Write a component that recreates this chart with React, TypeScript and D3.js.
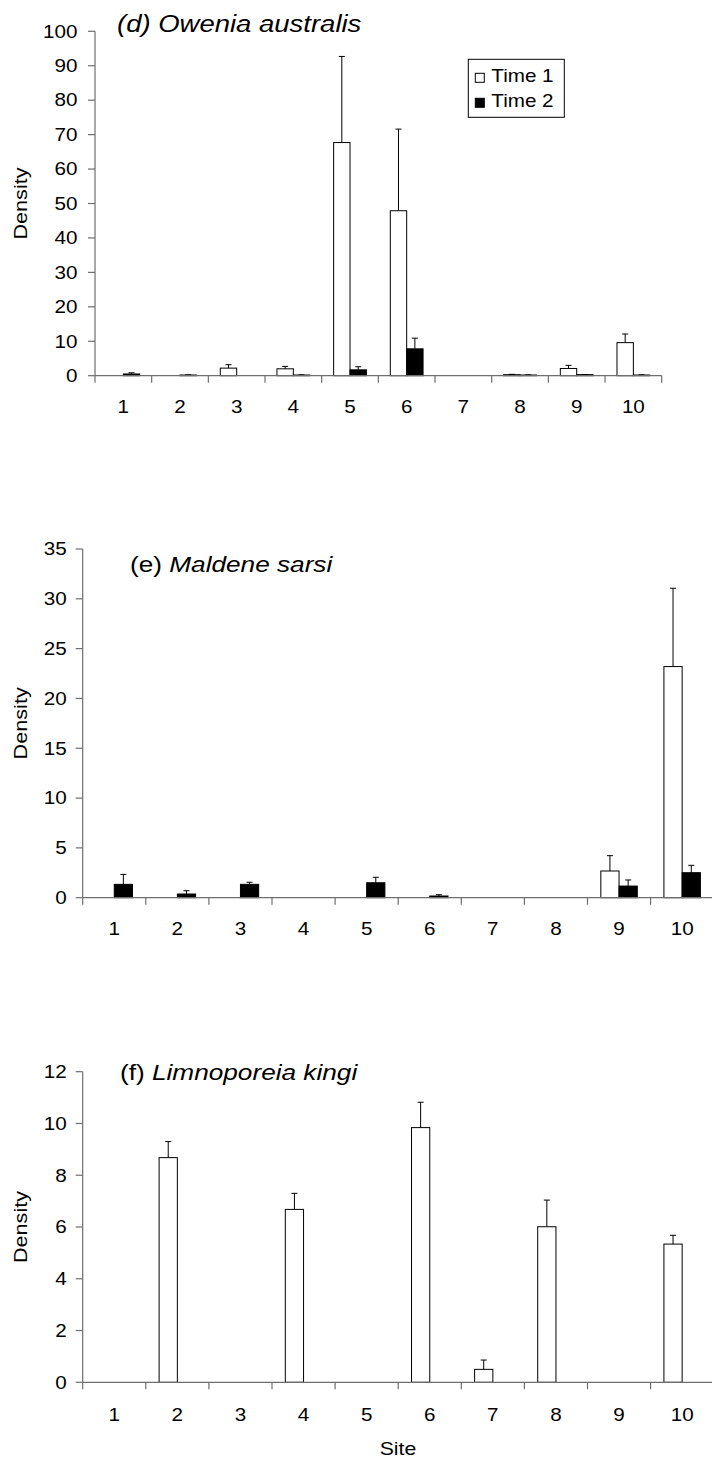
import React from "react";
import * as d3 from "d3";

// Site categories shared by all three panels
const sites = ["1", "2", "3", "4", "5", "6", "7", "8", "9", "10"];
const seriesNames = ["Time 1", "Time 2"];

// (d) Owenia australis — mean density and SE
const oweniaT1 = [0, 0, 2.2, 2.0, 67.7, 47.9, 0, 0.3, 2.1, 9.6];
const oweniaT1Err = [0, 0, 1.0, 0.7, 25.0, 23.7, 0, 0.1, 0.9, 2.5];
const oweniaT2 = [0.5, 0.2, 0, 0.2, 1.7, 7.8, 0, 0.2, 0.3, 0.2];
const oweniaT2Err = [0.35, 0.05, 0, 0.05, 0.9, 3.1, 0, 0.05, 0.05, 0.05];

// (e) Maldene sarsi
const maldeneT1 = [0, 0, 0, 0, 0, 0, 0, 0, 2.68, 23.2];
const maldeneT1Err = [0, 0, 0, 0, 0, 0, 0, 0, 1.54, 7.86];
const maldeneT2 = [1.34, 0.37, 1.34, 0, 1.5, 0.17, 0, 0, 1.17, 2.51];
const maldeneT2Err = [1.0, 0.33, 0.21, 0, 0.55, 0.13, 0, 0, 0.61, 0.74];

// (f) Limnoporeia kingi
const limnoT1 = [0, 8.68, 0, 6.68, 0, 9.84, 0.5, 6.01, 0, 5.34];
const limnoT1Err = [0, 0.62, 0, 0.62, 0, 0.98, 0.36, 1.03, 0, 0.34];
const limnoT2 = [0, 0, 0, 0, 0, 0, 0, 0, 0, 0];
const limnoT2Err = [0, 0, 0, 0, 0, 0, 0, 0, 0, 0];

const yTicksD = [0, 10, 20, 30, 40, 50, 60, 70, 80, 90, 100];
const yTicksE = [0, 5, 10, 15, 20, 25, 30, 35];
const yTicksF = [0, 2, 4, 6, 8, 10, 12];

const FONT = "'Liberation Sans', Arial, Helvetica, sans-serif";
const SX = 1.18; // horizontal glyph stretch
const AXIS = "#6e6e6e";
const fills = ["#ffffff", "#000000"];

type PanelProps = {
  t1: number[];
  t1e: number[];
  t2: number[];
  t2e: number[];
  ticks: number[];
  x0: number;
  x1: number;
  y0: number;
  y1: number;
  labelGap: number;
  xLabelY: number;
  title: { prefix: string; name: string; x: number; y: number; allItalic: boolean; size: number };
};

function Panel(p: PanelProps) {
  const yMax = p.ticks[p.ticks.length - 1];
  const x = d3.scaleBand<string>().domain(sites).range([p.x0, p.x1]).padding(0);
  const inner = d3
    .scaleBand<string>()
    .domain(seriesNames)
    .range([0, x.bandwidth()])
    .paddingInner(0)
    .paddingOuter(0.73);
  const y = d3.scaleLinear().domain([0, yMax]).range([p.y0, p.y1]);
  const vals = [p.t1, p.t2];
  const errs = [p.t1e, p.t2e];
  const bw = inner.bandwidth();
  const capHalf = 3;
  const xTickPos = sites.map((s) => x(s)!).concat([p.x1]);

  return (
    <g>
      {/* bars */}
      {sites.map((s, i) =>
        seriesNames.map((name, k) => {
          const v = vals[k][i];
          const bx = x(s)! + inner(name)!;
          return (
            <rect
              key={`b${i}${k}`}
              x={bx}
              y={y(v)}
              width={bw}
              height={Math.max(0, y(0) - y(v))}
              fill={fills[k]}
              stroke="#000"
              strokeWidth={1}
            />
          );
        })
      )}
      {/* error bars */}
      {sites.map((s, i) =>
        seriesNames.map((name, k) => {
          const v = vals[k][i];
          const e = errs[k][i];
          if (e <= 0) return null;
          const cx = x(s)! + inner(name)! + bw / 2;
          return (
            <g key={`e${i}${k}`} stroke="#000" strokeWidth={1}>
              <line x1={cx} x2={cx} y1={y(v)} y2={y(v + e)} />
              <line x1={cx - capHalf} x2={cx + capHalf} y1={y(v + e)} y2={y(v + e)} />
            </g>
          );
        })
      )}
      {/* y axis */}
      <line x1={p.x0} x2={p.x0} y1={p.y0} y2={p.y1} stroke={AXIS} strokeWidth={1.2} />
      {p.ticks.map((t) => (
        <g key={`yt${t}`}>
          <line x1={p.x0 - 7} x2={p.x0} y1={y(t)} y2={y(t)} stroke={AXIS} strokeWidth={1.2} />
          <text
            transform={`translate(${p.x0 - p.labelGap},${y(t)}) scale(${SX},1)`}
            textAnchor="end"
            dy="0.36em"
            fontSize={17.5}
            fontFamily={FONT}
            fill="#000"
          >
            {t}
          </text>
        </g>
      ))}
      {/* x axis */}
      <line x1={p.x0} x2={p.x1} y1={p.y0} y2={p.y0} stroke={AXIS} strokeWidth={1.2} />
      {xTickPos.map((tx, i) => (
        <line key={`xt${i}`} x1={tx} x2={tx} y1={p.y0} y2={p.y0 + 7} stroke={AXIS} strokeWidth={1.2} />
      ))}
      {sites.map((s) => (
        <text
          key={`xl${s}`}
          transform={`translate(${x(s)! + x.bandwidth() / 2},${p.xLabelY}) scale(${SX},1)`}
          textAnchor="middle"
          fontSize={17.5}
          fontFamily={FONT}
          fill="#000"
        >
          {s}
        </text>
      ))}
      {/* y axis title */}
      <text
        transform={`translate(27,${(p.y0 + p.y1) / 2}) rotate(-90) scale(1.17,1)`}
        textAnchor="middle"
        fontSize={18.5}
        fontFamily={FONT}
        fill="#000"
      >
        Density
      </text>
      {/* panel title */}
      <text
        transform={`translate(${p.title.x},${p.title.y}) scale(${SX},1)`}
        fontSize={p.title.size}
        fontFamily={FONT}
        fill="#000"
      >
        <tspan fontStyle={p.title.allItalic ? "italic" : "normal"}>{p.title.prefix}</tspan>
        <tspan fontStyle="italic">{p.title.name}</tspan>
      </text>
    </g>
  );
}

function Legend({ x, y }: { x: number; y: number }) {
  return (
    <g>
      <rect x={x} y={y} width={96} height={58} fill="#fff" stroke="#000" strokeWidth={1} />
      {seriesNames.map((name, k) => (
        <g key={name}>
          <rect
            x={x + 7}
            y={y + 14 + k * 25}
            width={9}
            height={9}
            fill={fills[k]}
            stroke="#000"
            strokeWidth={1}
          />
          <text
            transform={`translate(${x + 23},${y + 23 + k * 25}) scale(${SX},1)`}
            fontSize={17.5}
            fontFamily={FONT}
            fill="#000"
          >
            {name}
          </text>
        </g>
      ))}
    </g>
  );
}

export default function App() {
  return (
    <svg
      width={712}
      height={1458}
      viewBox="0 0 712 1458"
      style={{ position: "absolute", left: 0, top: 0, display: "block", background: "#fff" }}
    >
      <rect x={0} y={0} width={712} height={1458} fill="#fff" />
      <Panel
        t1={oweniaT1}
        t1e={oweniaT1Err}
        t2={oweniaT2}
        t2e={oweniaT2Err}
        ticks={yTicksD}
        x0={95}
        x1={661.7}
        y0={375.7}
        y1={31.3}
        labelGap={17.5}
        xLabelY={413}
        title={{ prefix: "(d) ", name: "Owenia australis", x: 117, y: 32, allItalic: true, size: 23.3 }}
      />
      <Legend x={468.3} y={59.3} />
      <Panel
        t1={maldeneT1}
        t1e={maldeneT1Err}
        t2={maldeneT2}
        t2e={maldeneT2Err}
        ticks={yTicksE}
        x0={82.7}
        x1={713.7}
        y0={897.7}
        y1={549}
        labelGap={16}
        xLabelY={935}
        title={{ prefix: "(e) ", name: "Maldene sarsi", x: 130, y: 571.5, allItalic: false, size: 22.2 }}
      />
      <Panel
        t1={limnoT1}
        t1e={limnoT1Err}
        t2={limnoT2}
        t2e={limnoT2Err}
        ticks={yTicksF}
        x0={82.7}
        x1={713.7}
        y0={1382.3}
        y1={1071.7}
        labelGap={16}
        xLabelY={1421}
        title={{ prefix: "(f) ", name: "Limnoporeia kingi", x: 120, y: 1080, allItalic: false, size: 22.2 }}
      />
      <text
        transform={`translate(398,1455) scale(${SX},1)`}
        textAnchor="middle"
        fontSize={18}
        fontFamily={FONT}
        fill="#000"
      >
        Site
      </text>
    </svg>
  );
}
